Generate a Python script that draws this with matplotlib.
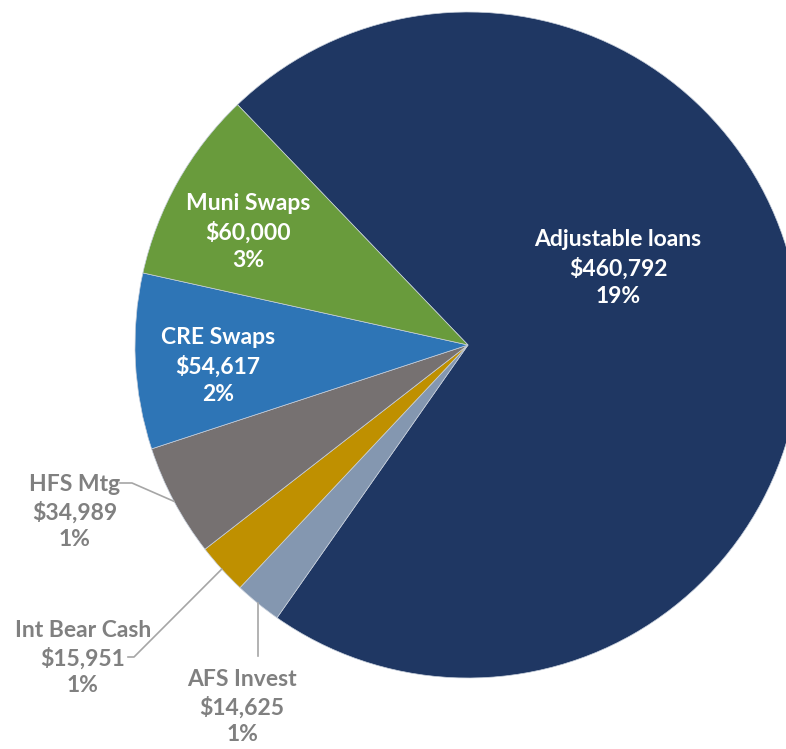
import matplotlib.pyplot as plt
import numpy as np

# loan / asset mix
names = ['Adjustable loans', 'AFS Invest', 'Int Bear Cash', 'HFS Mtg', 'CRE Swaps', 'Muni Swaps']
amounts = [460792, 14625, 15951, 34989, 54617, 60000]
shares = [19, 1, 1, 1, 2, 3]  # percent of total balance sheet
colors = ['#1F3763', '#8497B0', '#BF9000', '#767171', '#2E75B6', '#699B3C']

W, H = 786, 749
cx, cy, r = 468, H - 345, 333

fig = plt.figure(figsize=(W / 100, H / 100), dpi=100)
ax = fig.add_axes([0, 0, 1, 1])

wedges, _ = ax.pie(amounts, colors=colors, startangle=133.8, counterclock=False,
                   center=(cx, cy), radius=r, frame=True,
                   wedgeprops=dict(edgecolor='#c8d0dc', linewidth=0.5))
ax.set_xlim(0, W)
ax.set_ylim(0, H)
ax.set_aspect('equal')
ax.axis('off')

font = 'Lato'
fs = 16.5
lbl = {n: f"{n}\n${a:,.0f}\n{s}%" for n, a, s in zip(names, amounts, shares)}

# labels inside the big slices
inside = {'Adjustable loans': (618, 268), 'Muni Swaps': (248, 232), 'CRE Swaps': (218, 366)}
for n, (x, y) in inside.items():
    ax.text(x, H - y, lbl[n], color='white', fontsize=fs, fontweight='bold',
            family=font, ha='center', va='center', linespacing=1.38)

# small slices: grey labels with leader lines
outside = {'HFS Mtg': (75, 512), 'Int Bear Cash': (83, 658), 'AFS Invest': (242, 707)}
for n, (x, y) in outside.items():
    ax.text(x, H - y, lbl[n], color='#808080', fontsize=fs, fontweight='bold',
            family=font, ha='center', va='center', linespacing=1.34)

def edge_point(w):
    a = np.deg2rad((w.theta1 + w.theta2) / 2)
    return cx + r * np.cos(a), cy + r * np.sin(a)

lc = '#A6A6A6'
ex, ey = edge_point(wedges[names.index('HFS Mtg')])
ax.plot([120, 132, ex], [H - 483, H - 483, ey], color=lc, lw=1.2)
ex, ey = edge_point(wedges[names.index('Int Bear Cash')])
ax.plot([128, 134, ex], [H - 657, H - 657, ey], color=lc, lw=1.2)
ex, ey = edge_point(wedges[names.index('AFS Invest')])
ax.plot([ex, ex], [ey, H - 656], color=lc, lw=1.2)

fig.savefig('out.png', dpi=100)
